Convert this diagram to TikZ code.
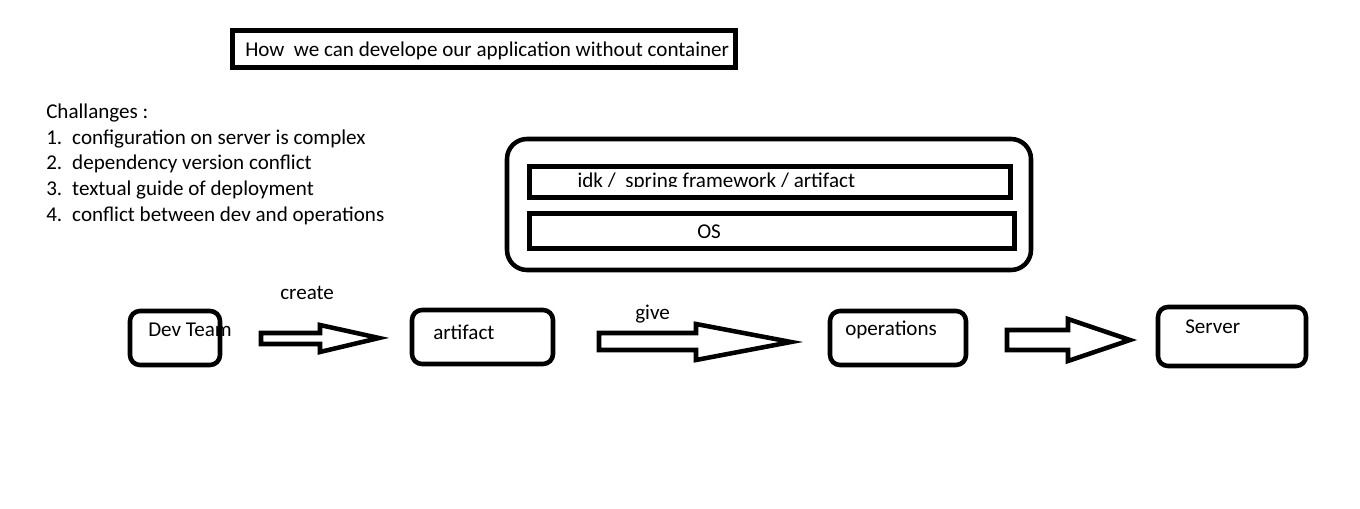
\documentclass[tikz,border=0pt]{standalone}
\usepackage{fontspec}
\setmainfont{Carlito}
\begin{document}
\begin{tikzpicture}[x=0.75pt,y=-0.75pt,
  box/.style={draw, line width=3.4pt, inner sep=0pt},
  rbox/.style={box, rounded corners=7.5pt},
  blockarrow/.style={draw, line width=3.4pt, line join=miter, miter limit=20},
  lbl/.style={anchor=base west, inner sep=0pt, font=\fontsize{15.8}{19.3}\selectfont}]
\useasboundingbox (0,0) rectangle (1360,509);
% title
\node[box, minimum width=377.25pt, minimum height=27.75pt] (title) at (484,49) {};
\node[lbl] (titletext) at (245,57) {How\ \ we can develope our application without container};
% challenges
\node[lbl] (ch0) at (46,118.5) {Challanges :};
\node[lbl] (ch1) at (46,144.2) {\makebox[19.5pt][l]{1.}configuration on server is complex};
\node[lbl] (ch2) at (46,169.9) {\makebox[19.5pt][l]{2.}dependency version conflict};
\node[lbl] (ch3) at (46,195.6) {\makebox[19.5pt][l]{3.}textual guide of deployment};
\node[lbl] (ch4) at (46,221.3) {\makebox[19.5pt][l]{4.}conflict between dev and operations};
% container box
\node[box, rounded corners=15pt, minimum width=393pt, minimum height=98.25pt] (outer) at (769,204.5) {};
\node[box, minimum width=360.75pt, minimum height=23.25pt] (jdk) at (770,182) {};
\begin{scope}
\clip (533,168) rectangle (1008,186.5);
\node[lbl] (jdktext) at (577,188) {jdk /\ \ spring framework / artifact};
\end{scope}
\node[box, minimum width=363.75pt, minimum height=26.25pt] (os) at (772,231) {};
\node[lbl] (ostext) at (697,238.5) {OS};
% flow boxes
\node[rbox, minimum width=67.5pt, minimum height=40.5pt] (dev) at (175,338) {};
\node[rbox, minimum width=105.75pt, minimum height=40.5pt] (art) at (482.5,337) {};
\node[rbox, minimum width=102pt, minimum height=40.5pt] (ops) at (898,338) {};
\node[rbox, minimum width=111pt, minimum height=44.25pt] (srv) at (1232,336.5) {};
\node[lbl] (devtext) at (148,336.5) {Dev Team};
\node[lbl] (arttext) at (433,339.5) {artifact};
\node[lbl] (opstext) at (845,335.5) {operations};
\node[lbl] (srvtext) at (1185,333.5) {Server};
\node[lbl] (create) at (280,299.5) {create};
\node[lbl] (give) at (635,319.5) {give};
% block arrows
\draw[blockarrow] (261,333) -- (320,333) -- (320,325) -- (379,338) -- (320,352) -- (320,344) -- (261,344) -- cycle;
\draw[blockarrow] (599,333) -- (696,333) -- (696,324) -- (791,342) -- (696,360) -- (696,350) -- (599,350) -- cycle;
\draw[blockarrow] (1007,330) -- (1068,330) -- (1068,319) -- (1130,340) -- (1068,361) -- (1068,350) -- (1007,350) -- cycle;
\end{tikzpicture}
\end{document}
